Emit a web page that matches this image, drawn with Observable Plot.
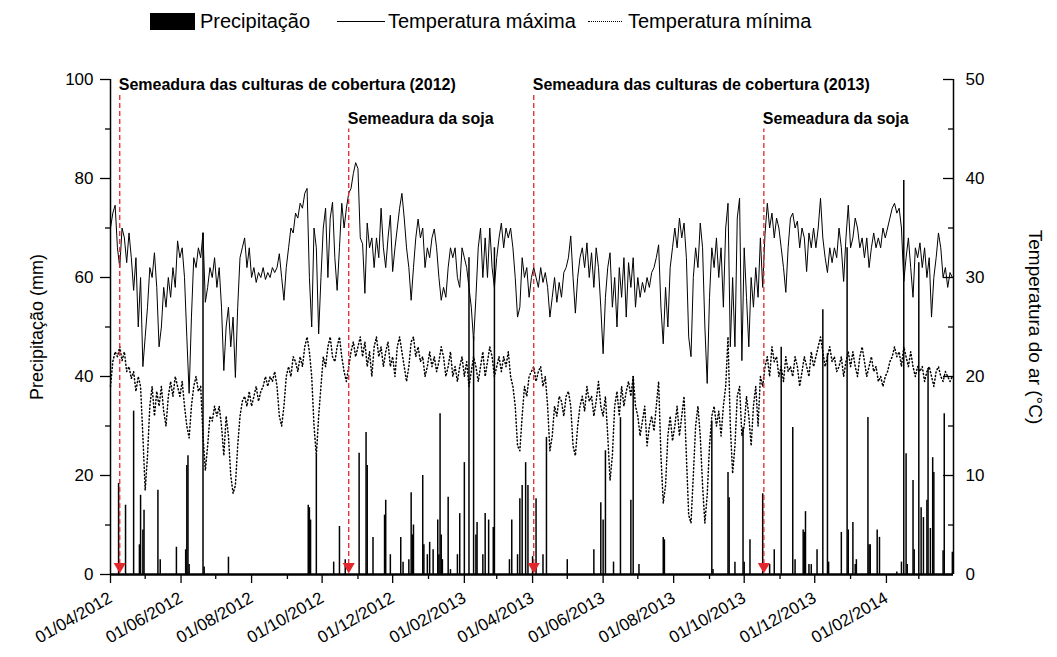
<!DOCTYPE html>
<html><head><meta charset="utf-8">
<script src="https://cdn.jsdelivr.net/npm/d3@7"></script>
<script src="https://cdn.jsdelivr.net/npm/@observablehq/plot@0.6"></script>
<style>
body{margin:0;background:#fff;font-family:"Liberation Sans",Arial,sans-serif;color:#000;}
#legend{position:relative;height:45px;width:1057px;}
.lg{position:absolute;font-size:20px;line-height:20px;white-space:nowrap;}
</style></head><body>
<div id="legend"></div><div id="chart"></div>
<script>
// ---------------- data ----------------
const xStart = "2012-04-01";
const xEnd = "2014-03-31";
const tempStartDate = "2012-04-01";
const tempStepDays = 2;

// Temperatura máxima (°C), one value every 2 days
const tmax = [
 35,36.5,37.3,33,31,35,34,31.5,34.5,32,28.7,32,25,30,21,
 24,27,31,30,32.5,29,23,25,29,27,30,28,31,29,33.7,32,
 33,30,24,18.3,26,32,31,33,32,34.5,27.5,29,31,30,32,
 29,31,27,20.6,25,27,23,26,19.9,27,32,33,34,31,33,
 30,31,29.5,30.5,30,31,29.8,30.5,30,31,30.5,31,32.4,30,27.7,31,
 33,35,34.5,36.5,36,37.5,37,38.5,39,30,25,35,33,24.3,30,
 35,37,30,36,37.6,32,28.7,33,37.5,35,37,38.5,39,40.5,41.6,
 41,34,33.4,28.4,35.5,33,34,31,34,32,37,33,31,34,36.3,
 30.6,33,35,37,38.5,36,33,31,27.7,31,34,35.9,34,35,31,33,
 32,34,34.9,33,30,27.7,29,28,31,33,32,33,30,29,33,
 32,31,29,27,23.6,28,33,35,30,34,30,35,31,29,
 32,34,35.5,33,35,34,35,33,30,26,27,32,30,31,28,30,
 31,30,29,31,29.5,30.5,29,26,28,30,27.5,29.5,28,30.5,31,
 32,34.2,30,26.4,30,32,33,31,33.5,30,32.5,29,33,31,27,
 22.3,28,31,32.5,27,30,25,31,28,32,26,31.5,29,32,27,
 30,28,29.5,28.5,30,29,30.5,31,32,33.3,27,23.3,29,25,31,33,
 35,33,36,34,35.5,32,24,22,30,33,31,35.5,33,25,19.3,
 28,33,31,34,30,33,27,35,37.5,23,30,23,36,38,21.6,
 33,28,23,30,27,31,28,34,29,34.4,37.5,35,36.5,34,36,35,
 33,31,28.5,33,36,36.5,35,35.7,33,35,34,30.6,34.5,33,35,
 33,35,38,34,32,30.5,33,31.5,33,32,35,33,29.6,34,37.3,
 33,34,36,35,33,34,32,34,31,33,34.5,33,34,33,35,34,
 35,36,37,37.5,36.5,37,35,29.6,32,34,31,28,33,32,
 33.5,31,33,30,32,26,30,32,34.5,33,30,31,29,30.5,30
];

// Temperatura mínima (°C), one value every 2 days
const tmin = [
 19,21.5,22.5,22,23,21.6,22.5,20.5,21,19.8,20.5,18.5,20,19,14,
 8.5,12,17,19,16,18.5,17,19,16.5,15,18,19.5,18,20,19,18,
 19.5,17,15,13.8,17,19,20,18.5,19,14,10.5,13,16,15.5,17,
 16,17,15,12,16,14,10,8.2,9,13,16,17.5,18,17,18.5,
 17,18,19,17.5,18.5,19,20,19,20,19.5,20.5,19,16,15,17,20,
 21,20,22,21.5,20.5,22,21,23,24,22.5,20,15,12,16,19,
 22,21,23,24,22,21.5,23,24,22,20.5,19.5,21,22.5,23.5,22,
 23,24,22,23.5,21,22.5,20,23,24,22,23,21,22.5,23.5,21,
 22,20,23,24,22.5,21,19.5,21,23.5,24,22,23,21.5,22,20,21,
 22.5,21,22,20.5,21.5,23,22,20,21,22.5,20,21,19.5,21,22,
 20,21.5,19,20.5,22,21,19.5,21,22.5,20,21.5,23,22,20,
 21,22,20.5,22,21,22.5,20,19,17,13,12.5,16,19,18,20,20.5,
 21,19.5,20.5,21,19,20,17,12.5,14,17,16,18,17.5,16,18,
 18.5,17,13,12,15,17,18,16.5,19,17.5,18,16,17.5,19.5,17,
 16,18,14,9.5,12,17,18.5,16,19,17,18.5,19.5,18,20,17,
 16,14,15.5,17,13,15,16,14.5,17,19.5,12,7.2,9,14,16,13.5,
 15,17,14,16,18,12,6,5.2,10,15,17,14,9,5.2,8,
 13,16,17,15,16.5,14,17,19,24,15,10.2,13,18,19,14,
 15,18,16,13,17,19,15,20,19,21,22,20,23,21.5,22,20,
 21,19.5,22,20.5,21,20,22,21,19,20.5,22,21,20,22.5,21,
 22,23,24,22.5,21,22,23,21.5,22,20.5,21,22,20,21.5,22.5,
 21,22.5,21,20,22,23,21.5,20,21,22,20.5,21,19.5,20,19,20,
 20.5,21.5,22,23,22,22.5,21,23,22,21,22.5,21,20,21,
 20.5,21,19.5,20.5,21,20,19,20.5,21,20,19.5,20.5,20,19.5,20
];

// Precipitação: day offset from xStart and amount (mm)
const precipDay = [7,13,20,25,26,28,29,41,43,57,65,66,67,68,80,81,102,171,172,173,
 178,193,198,203,215,221,222,227,237,238,242,251,253,258,260,261,262,270,271,274,
 276,279,283,284,285,286,287,292,294,300,302,306,310,314,316,317,322,324,327,331,
 332,345,347,352,354,356,359,361,365,368,374,377,395,418,424,426,428,435,441,450,
 452,457,478,479,520,521,534,535,540,547,548,553,564,570,574,580,590,592,599,600,
 601,604,606,611,616,620,621,632,637,638,642,644,645,655,656,657,663,665,680,684,
 686,688,689,694,695,699,701,703,706,707,709,711,712,720,721,728];
const precipMm = [18.4,14,33,6,16,9,13,17,3,5.5,5,22,24,2,69,1.5,3.5,14,13.5,11,
 24,2.5,9.7,3,24.5,28.7,22,7.5,12,15,4,7.5,2.5,3,16.5,8,10,20,6,4,
 6.5,5,11,4,32.5,8,3,15.6,1,4,12.3,22.6,64,48,8,10.5,4,12.3,11,9.5,
 66,3,11,4,15.3,18,22.6,18,3.6,15.3,4,27.7,3,5,14.5,11,25,2.5,31.7,15,
 40,2,7.5,7,31,1,20.6,15.5,2.5,29.7,2.5,7,16.3,2,5,45.9,29.7,3,9,8.5,
 12.7,2,2,5,53.5,44.6,2.5,8.5,66,9,10.5,2,3,31.7,6,6,9,7.5,0.5,2.5,
 79.6,24.4,2,19,5,63,13.5,11.5,15,41.6,9.3,23.6,20.6,4.8,32.5,4.5];

const sowingDates = ["2012-04-09","2012-10-24","2013-04-02","2013-10-18"];
const sowingLabels = ["Semeadura das culturas de cobertura (2012)","Semeadura da soja",
  "Semeadura das culturas de cobertura (2013)","Semeadura da soja"];

const xMajorTicks = ["2012-04-01","2012-06-01","2012-08-01","2012-10-01","2012-12-01","2013-02-01",
  "2013-04-01","2013-06-01","2013-08-01","2013-10-01","2013-12-01","2014-02-01"];
const xMinorTicks = ["2012-05-01","2012-07-01","2012-09-01","2012-11-01","2013-01-01","2013-03-01",
  "2013-05-01","2013-07-01","2013-09-01","2013-11-01","2014-01-01","2014-03-01"];
const precipTicks = [0,20,40,60,80,100];
const precipMinorTicks = [10,30,50,70,90];
const tempTicks = [0,10,20,30,40,50];
const tempMinorTicks = [5,15,25,35,45];

const legendLabels = ["Precipitação","Temperatura máxima","Temperatura mínima"];
const yTitleLeft = "Precipitação (mm)";
const yTitleRight = "Temperatura do ar (°C)";

// ---------------- build ----------------
const parse = d3.utcParse("%Y-%m-%d");
const t0 = parse(tempStartDate);
const r0 = parse(xStart);
const temps = tmax.map((v, i) => ({date: d3.utcDay.offset(t0, i * tempStepDays), tmax: v, tmin: tmin[i]}));
const rain = precipDay.map((d, i) => ({date: d3.utcDay.offset(r0, d), mm: precipMm[i]}));
const sow = sowingDates.map((d, i) => ({date: parse(d), label: sowingLabels[i], i}));
const xDomain = [parse(xStart), parse(xEnd)];
const fmt = d3.utcFormat("%d/%m/%Y");
const t2y = t => t * 2; // temperature (0–50 °C) drawn on the 0–100 frame
const red = "#e3262c";

// legend (HTML, above the SVG)
const lg = document.getElementById("legend");
lg.innerHTML = `
 <div class="lg" style="left:150px;top:13px;width:45px;height:17px;background:#000"></div>
 <div class="lg" style="left:200px;top:11px">${legendLabels[0]}</div>
 <div class="lg" style="left:337px;top:21px;width:48px;height:0;border-top:1.3px solid #000"></div>
 <div class="lg" style="left:388px;top:11px">${legendLabels[1]}</div>
 <div class="lg" style="left:588px;top:21px;width:34px;height:0;border-top:1.5px dotted #000"></div>
 <div class="lg" style="left:628px;top:11px">${legendLabels[2]}</div>`;

const chart = Plot.plot({
  width: 1057, height: 612,
  marginTop: 34, marginBottom: 83, marginLeft: 110, marginRight: 104,
  style: {fontFamily: '"Liberation Sans", Arial, sans-serif', fontSize: "17px", color: "#000", background: "#fff", overflow: "visible"},
  x: {type: "utc", domain: xDomain},
  y: {domain: [0, 100]},
  marks: [
    Plot.ruleX(rain, {x: "date", y1: 0, y2: "mm", stroke: "#000", strokeWidth: 1.5}),
    Plot.line(temps, {x: "date", y: d => t2y(d.tmax), stroke: "#000", strokeWidth: 1}),
    Plot.line(temps, {x: "date", y: d => t2y(d.tmin), stroke: "#000", strokeWidth: 1.5, strokeDasharray: "1,2.6"}),
    Plot.ruleX(sow, {x: "date", y1: 2, y2: d => d.i % 2 ? 90 : 97, stroke: red, strokeWidth: 1.3, strokeDasharray: "5,3"}),
    Plot.dot(sow, {x: "date", y: 1.6, symbol: "triangle", rotate: 180, r: 4.5, fill: red, stroke: "none"}),
    Plot.text(sow, {x: "date", y: d => d.i % 2 ? 92 : 99, text: "label", textAnchor: "start", fontWeight: "bold", fontSize: 16, dx: -1}),
    Plot.ruleX(xDomain, {stroke: "#000", strokeWidth: 1.5}),
    Plot.ruleY([0], {stroke: "#000", strokeWidth: 2.5}),
    // left axis
    Plot.axisY(precipTicks, {anchor: "left", tickSize: 10, tickPadding: 7, label: null, strokeWidth: 1.3}),
    Plot.axisY(precipMinorTicks, {anchor: "left", tickSize: 5, fill: "none", label: null, strokeWidth: 1.3}),
    // right axis (temperature), ticks pointing inward
    Plot.axisY(tempTicks.map(t2y), {anchor: "right", tickSize: 0, tickPadding: 12, tickFormat: d => d / 2, label: null}),
    Plot.axisY(tempTicks.map(t2y), {anchor: "left", frameAnchor: "right", tickSize: 10, fill: "none", label: null, strokeWidth: 1.3}),
    Plot.axisY(tempMinorTicks.map(t2y), {anchor: "left", frameAnchor: "right", tickSize: 5, fill: "none", label: null, strokeWidth: 1.3}),
    // bottom axis
    Plot.axisX(xMajorTicks.map(parse), {tickSize: 9, tickPadding: 13, tickRotate: -30, tickFormat: fmt, fontSize: 17, label: null, strokeWidth: 1.3}),
    Plot.axisX(xMinorTicks.map(parse), {tickSize: 5, fill: "none", label: null, strokeWidth: 1.3}),
    // axis titles
    Plot.text([yTitleLeft], {frameAnchor: "left", dx: -73, rotate: -90, textAnchor: "middle", fontSize: 18}),
    Plot.text([yTitleRight], {frameAnchor: "right", dx: 82, rotate: 90, textAnchor: "middle", fontSize: 19})
  ]
});
document.getElementById("chart").appendChild(chart);
</script>
</body></html>
